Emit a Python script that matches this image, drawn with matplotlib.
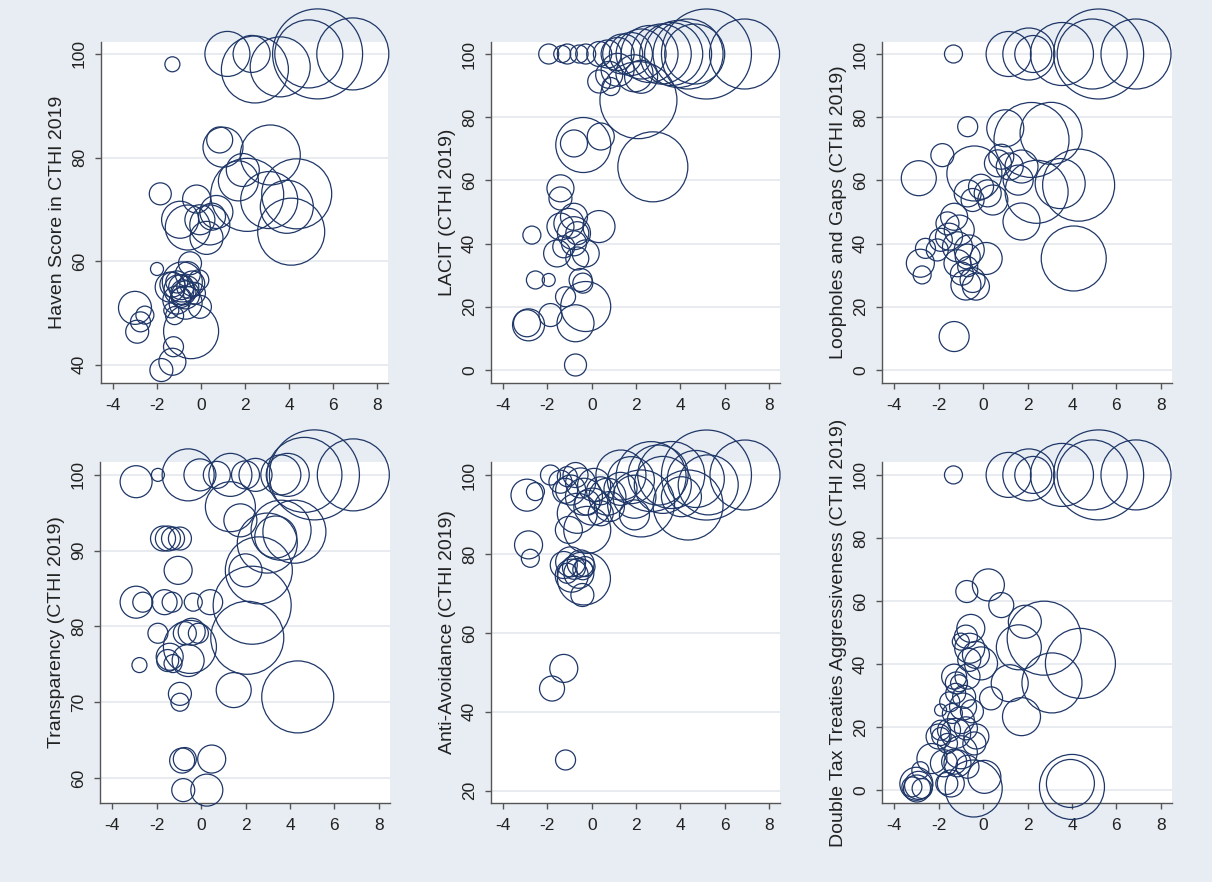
import numpy as np
import matplotlib
matplotlib.use("Agg")
import matplotlib.pyplot as plt

# Bubble charts of CTHI 2019 sub-indicators against a common x variable.

plt.rcParams['font.family'] = ['Liberation Sans', 'DejaVu Sans']
plt.rcParams['axes.unicode_minus'] = False

# --- Haven score
x_haven = [1.2, 2.3, 2.45, 3.6, 4.9, 5.3, 6.9, -1.3,
           0.85, 1.0, 3.15, 1.9, 1.7, 2.1, 3.1, 4.35, 3.9, 4.1,
           -1.85, -0.2, -0.95, -0.6, -0.05, 0.5, 0.7, 0.25, 0.4,
           -2.0, -0.5, -1.3, -1.0, -0.8, -0.6, -0.9, -1.1, -0.7, -0.1,
           -0.3, -1.4, -0.85, -0.05, -3.0, -2.75, -2.9, -2.55, -0.45, -1.25,
           -1.2, -1.35, -1.8, -1.3, -0.4,
           -0.9, -0.7, -1.1, -0.6]
y_haven = [100, 100, 97, 97.5, 100, 100, 100, 98,
           83.4, 82, 80.5, 77.6, 75.5, 72.8, 71.8, 73, 70.5, 65.7,
           73, 72, 68, 66.5, 68, 68.6, 69.5, 64.5, 67,
           58.5, 59.6, 55.5, 54.5, 54, 55, 53, 52.5, 52, 56.4,
           53.8, 55, 56, 51.2, 51, 48.3, 46.4, 49.6, 46.5, 43.5,
           49.5, 50.5, 39, 40.6, 55.7,
           55, 53.5, 56, 57.5]
w_haven = [45, 37, 67, 60, 68, 90, 72, 15,
           26, 40, 60, 33, 40, 73, 57, 70, 53, 67,
           22, 28, 37, 45, 30, 27, 33, 33, 40,
           13, 23, 25, 30, 25, 22, 20, 28, 33, 20,
           22, 30, 40, 23, 33, 20, 23, 18, 55, 20,
           18, 15, 23, 27, 25,
           25, 28, 22, 25]

# --- LACIT
x_lacit = [-1.94, -1.33, -1.1, -0.57, -0.27, 0.34, 0.71, 1.17, 1.4, 1.77,
           2.23, 2.61, 3.14, 3.59, 3.9, 4.35, 4.65, 5.18, 6.9,
           0.34, 0.79, 0.87, 1.93, 1.17, 2.23,
           2.11, 2.76, -0.38, -0.8, 0.41,
           -1.41, -1.41, 0.33, -0.8, -1.03, -1.41, -0.65, -0.8, -1.26, -1.56,
           -0.27, -0.65, -0.8, -2.7,
           -2.54, -1.94, -0.5, -0.4, -1.18, -0.27, -1.86, -0.73, -2.85, -2.92, -0.73]
y_lacit = [100, 100, 100, 100, 100, 100, 100, 100, 100, 100,
           100, 100, 100, 100, 100, 100, 100, 100, 100,
           91.3, 93.4, 89.7, 93.9, 95, 92.8,
           85.4, 64.3, 71.2, 71.7, 73.9,
           57.5, 54.3, 45.4, 48.5, 46.4, 45.4, 43.3, 40.1, 39, 36.9,
           36.9, 35.3, 43.3, 42.7,
           28.5, 28.5, 28.5, 27.5, 23.2, 20.1, 17.4, 14.8, 14.3, 14.8, 1.6]
w_lacit = [20, 17, 20, 18, 20, 25, 28, 33, 40, 43,
           50, 57, 60, 63, 67, 70, 60, 90, 70,
           23, 27, 18, 37, 33, 33,
           77, 70, 55, 27, 27,
           27, 23, 32, 27, 30, 27, 23, 25, 22, 27,
           27, 23, 33, 18,
           18, 13, 23, 20, 20, 50, 23, 37, 32, 27, 22]

# --- Loopholes and gaps
x_loop = [-1.33, 1.15, 2.06, 2.26, 3.55, 4.91, 5.2, 6.88,
          -0.69, 1.0, 3.06, 2.18, -1.83, -2.89, -0.39, 0.67, 0.82, 1.2,
          1.73, 1.58, 2.41, 3.47, 4.3, 0.21, 0.44, -0.09, -0.69, -0.47, 1.73,
          -1.6, -1.3, -1.07, -1.53, -1.9, -1.15, -2.06, -2.59, -2.82, -2.74,
          -0.62, 0.14, -0.69, -1.15, -0.69, -0.47, -0.77, -0.32, -0.95, -1.3, 4.08]
y_loop = [100, 100, 100, 100, 100, 100, 100, 100,
          77, 76.5, 74.9, 72.8, 68, 60.7, 62.2, 65.4, 67.5, 64.4,
          64.4, 60.1, 56.4, 59, 58.5, 55.9, 53.8, 58, 55.9, 53.8, 47,
          46.4, 48.5, 44.3, 42.2, 41.2, 39, 38, 38.5, 33.8, 30.1,
          38, 35.3, 35.9, 33.8, 32.7, 28.5, 26.9, 26.4, 30.5, 10.6, 35.3]
w_loop = [18, 45, 52, 37, 63, 70, 90, 70,
          20, 37, 62, 75, 23, 35, 55, 27, 25, 27,
          33, 30, 63, 50, 72, 27, 30, 25, 27, 23, 37,
          23, 27, 30, 27, 23, 30, 22, 20, 28, 18,
          30, 32, 25, 27, 20, 25, 30, 27, 23, 30, 65]

# --- Transparency
x_transp = [-2.92, -1.94, -0.58, -0.05, 0.71, 1.32, 2.0, 2.45, 3.59, 3.9,
            5.1, 4.65, 6.85,
            1.32, 1.77, 4.2, 3.36, 2.98, 3.6,
            2.6, 2.0, 2.3, 2.08, 1.47, 4.35, -0.5, -0.58,
            -1.71, -1.49, -1.26, -0.95, -1.03, -2.92, -2.62, -1.64, -1.3, -0.35,
            0.41, -1.94, -0.73, -0.42, -0.12, -1.41, -1.26, -1.5, -2.77, -0.95,
            -0.95, -0.73, -0.85, 0.48, -0.8, 0.26]
y_transp = [99.1, 100, 100, 100, 100, 100, 100, 100, 100, 100,
            100, 100, 100,
            95.8, 94, 92.5, 91.8, 91, 92.7,
            87.4, 87.4, 82.8, 78.5, 71.6, 70.7, 77.3, 75.5,
            91.6, 91.6, 91.6, 91.6, 87.4, 83.2, 83.2, 83.2, 83.2, 83.2,
            83.2, 79.1, 79.1, 79.3, 79.1, 76, 75.1, 75.5, 74.9, 71.1,
            70, 62.5, 62.3, 62.5, 58.4, 58.4]
w_transp = [32, 13, 52, 32, 27, 43, 28, 33, 40, 43,
            90, 75, 72,
            50, 33, 63, 42, 60, 60,
            67, 33, 78, 73, 35, 72, 53, 32,
            25, 25, 23, 23, 28, 32, 20, 25, 20, 18,
            25, 20, 23, 27, 20, 27, 18, 22, 15, 23,
            18, 23, 25, 28, 23, 32]

# --- Anti-avoidance
x_anti = [-2.92, -2.54, -2.85, -2.77, -1.86, -1.41, -1.1, -0.73, -0.95, -0.35,
          -0.65, 0.11, 0.03, 0.41, -1.03, -0.2, 0.71,
          1.32, 1.77, 1.93, 1.93, 1.3, 2.23, 2.68, 3.21, 3.59, 4.05,
          4.35, 5.18, 5.26, 6.92, 4.7, 3.0,
          -1.26, -0.95, -0.8, -0.5, -0.3, -1.1, -0.58, -0.4, -0.35, -0.42, -0.9,
          -1.26, -1.79, -1.18,
          -1.2, -0.5, 0.4, 0.8, -0.2]
y_anti = [94.9, 95.8, 82.3, 78.9, 100, 98.3, 99.6, 100, 96.2, 94.5,
          90.3, 97.5, 92, 90.3, 86.1, 86.1, 94.5,
          100, 98.7, 94.5, 89.9, 96.5, 92.8, 99.6, 97.5, 100, 94.5,
          92.4, 100, 97.5, 100, 99, 100,
          77.2, 78, 76.5, 77.6, 76.8, 75.1, 75.1, 76, 73.8, 69.6, 74.5,
          51, 45.9, 27.8,
          96, 98, 96, 92, 93]
w_anti = [32, 18, 28, 18, 20, 23, 20, 25, 30, 37,
          40, 33, 37, 25, 27, 47, 37,
          50, 47, 43, 30, 33, 67, 70, 57, 67, 40,
          70, 90, 60, 70, 57, 60,
          27, 30, 23, 27, 20, 20, 30, 20, 53, 23, 33,
          28, 25, 20,
          25, 30, 28, 30, 25]

# --- Double tax treaties aggressiveness
x_dtt = [-1.33, 1.15, 2.06, 2.26, 3.55, 4.91, 5.2, 6.88,
         0.24, -0.73, 0.82, 1.88, 2.75, 1.61, 4.38, 3.1, 1.2, 1.73, -0.09,
         -0.55, -0.77, -1.0, -0.62, -0.32, -1.08, -1.23, -0.85, 0.36, -1.91,
         -1.38, -1.0, -1.53, -1.23, -0.77, -0.39, -1.91, -1.6, -1.15, -1.76,
         -0.7, 0.06, -1.45, -2.97, -3.2, -2.74, -2.82, -0.42, 3.93, 4.0,
         -0.9, -1.3,
         -1.2, -0.7, -1.5, -0.5, -2.0, -2.3, -1.0, -3.0, -2.9, -0.3, -1.3, -0.6,
         -1.63, -1.9]
y_dtt = [100, 100, 100, 100, 100, 100, 100, 100,
         65.1, 63, 58.7, 53.4, 48.2, 45.3, 40.2, 34, 33.9, 23.3, 40.2,
         51.3, 48.7, 47.1, 41.3, 42.9, 33.9, 30.7, 29.6, 29.1, 25.4,
         24.3, 22.2, 19.0, 18.0, 19.6, 14.8, 19, 14.8, 8.5, 8.5,
         7.4, 4.2, 2.1, 0.5, 1.0, 0.5, 6.3, 0.5, 2.1, 1.0,
         26.5, 36,
         34, 36, 28, 25, 17, 10, 12, 2, 1.5, 17, 9, 45,
         2.1, 17]
w_dtt = [18, 45, 52, 37, 63, 70, 90, 70,
         32, 22, 25, 33, 74, 45, 70, 60, 37, 38, 33,
         28, 23, 17, 23, 27, 17, 20, 23, 23, 12,
         20, 27, 23, 30, 23, 23, 20, 20, 27, 27,
         23, 33, 27, 27, 20, 20, 17, 57, 48, 65,
         27, 25,
         22, 25, 20, 23, 25, 30, 33, 33, 28, 25, 25, 30,
         22, 18]

x_ticks = [-4, -2, 0, 2, 4, 6, 8]

BG = '#E8EDF3'
NAVY = '#1F3768'
TXT = '#222222'
AXC = '#555555'
GRID = '#E4E8EC'

W, H = 1212, 882
fig = plt.figure(figsize=(W / 100, H / 100), dpi=100, facecolor=BG)

# (x, y, weight, title, ylim, yticks, box in pixels: left, top, right, bottom)
panels = [
    (x_haven, y_haven, w_haven, "Haven Score in CTHI 2019", (36.5, 102.3), [40, 60, 80, 100], (101, 42, 388, 383)),
    (x_lacit, y_lacit, w_lacit, "LACIT (CTHI 2019)", (-4.1, 103.8), [0, 20, 40, 60, 80, 100], (491, 42, 780, 383)),
    (x_loop, y_loop, w_loop, "Loopholes and Gaps (CTHI 2019)", (-4.1, 103.8), [0, 20, 40, 60, 80, 100], (882, 42, 1172, 383)),
    (x_transp, y_transp, w_transp, "Transparency (CTHI 2019)", (56.7, 101.7), [60, 70, 80, 90, 100], (100, 462, 390, 803)),
    (x_anti, y_anti, w_anti, "Anti-Avoidance (CTHI 2019)", (16.9, 103.3), [20, 40, 60, 80, 100], (491, 462, 780, 803)),
    (x_dtt, y_dtt, w_dtt, "Double Tax Treaties Aggressiveness (CTHI 2019)", (-4.1, 104.1), [0, 20, 40, 60, 80, 100], (882, 462, 1172, 803)),
]

for xs, ys, ws, title, ylim, yticks, box in panels:
    l, t, r, b = box
    ax = fig.add_axes([l / W, 1 - b / H, (r - l) / W, (b - t) / H])
    ax.set_facecolor('white')
    sizes = (0.72 * np.array(ws)) ** 2
    ax.scatter(xs, ys, s=sizes, facecolors='none', edgecolors=NAVY,
               linewidths=0.9, clip_on=False, zorder=3)
    ax.set_xlim(-4.545, 8.5)
    ax.set_ylim(*ylim)
    ax.set_xticks(x_ticks)
    ax.set_yticks(yticks)
    ax.yaxis.grid(True, color=GRID, linewidth=1.2)
    ax.set_axisbelow(True)
    for s in ['top', 'right']:
        ax.spines[s].set_visible(False)
    for s in ['left', 'bottom']:
        ax.spines[s].set_color(AXC)
        ax.spines[s].set_linewidth(1.0)
    ax.tick_params(axis='both', direction='out', length=4, width=1,
                   color=AXC, labelsize=12.5, labelcolor=TXT)
    ax.tick_params(axis='x', pad=7)
    ax.tick_params(axis='y', pad=6)
    plt.setp(ax.get_yticklabels(), rotation=90, va='center')
    ax.set_ylabel(title, fontsize=14, color=TXT)
    ax.yaxis.set_label_coords(-34.7 / (r - l), 0.5)

fig.savefig('out.png', dpi=100, facecolor=BG)
